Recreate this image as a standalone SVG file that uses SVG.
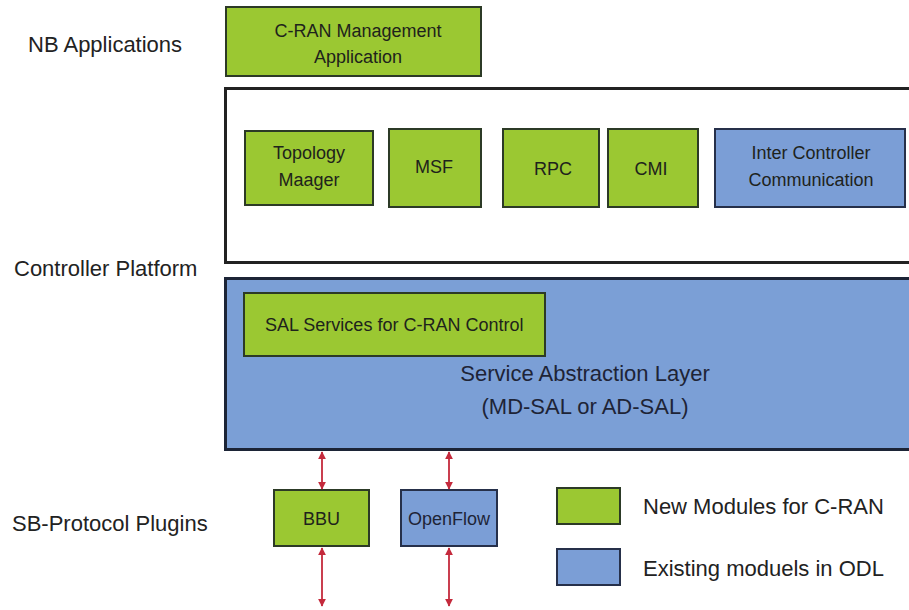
<svg xmlns="http://www.w3.org/2000/svg" width="909" height="610" viewBox="0 0 909 610">
<style>
text{font-family:"Liberation Sans",Arial,sans-serif;fill:#1e231c}
.lbl{font-size:22px;fill:#222}
.bx{font-size:18px;text-anchor:middle}
.g{fill:#9bc832;stroke:#2c3a26;stroke-width:2}
.b{fill:#7b9ed6;stroke:#26304a;stroke-width:2}
.leg{font-size:22px;fill:#222}
.ar{stroke:#c42a3c;stroke-width:1.8;fill:none;marker-start:url(#ah);marker-end:url(#ah)}
</style>
<defs>
<marker id="ah" viewBox="0 0 10 10" refX="9" refY="5" markerWidth="8" markerHeight="8" orient="auto-start-reverse" markerUnits="userSpaceOnUse">
<path d="M0,0 L10,5 L0,10 z" fill="#c42a3c"/>
</marker>
</defs>
<rect width="909" height="610" fill="#fff"/>
<g id="labels">
<text class="lbl" x="28" y="52">NB Applications</text>
<text class="lbl" x="14" y="276">Controller Platform</text>
<text class="lbl" x="12" y="531">SB-Protocol Plugins</text>
</g>
<g id="cran-mgmt">
<rect class="g" x="226" y="7" width="255" height="69"/>
<text class="bx" x="358" y="37">C-RAN Management</text>
<text class="bx" x="358" y="63">Application</text>
</g>
<g id="controller-platform">
<rect x="225.5" y="88.5" width="690" height="174" fill="#fff" stroke="#222" stroke-width="3"/>
</g>
<g id="topology">
<rect class="g" x="245" y="131" width="128" height="74"/>
<text class="bx" x="309" y="159">Topology</text>
<text class="bx" x="309" y="186">Maager</text>
</g>
<g id="msf">
<rect class="g" x="389" y="129" width="92" height="78"/>
<text class="bx" x="434" y="173">MSF</text>
</g>
<g id="rpc">
<rect class="g" x="503" y="129" width="96" height="78"/>
<text class="bx" x="553" y="175">RPC</text>
</g>
<g id="cmi">
<rect class="g" x="608" y="129" width="90" height="78"/>
<text class="bx" x="651" y="175">CMI</text>
</g>
<g id="inter-controller">
<rect class="b" x="715" y="129" width="190" height="78"/>
<text class="bx" x="811" y="159">Inter Controller</text>
<text class="bx" x="811" y="186">Communication</text>
</g>
<g id="sal">
<rect x="225.5" y="278.5" width="690" height="171" fill="#7b9fd6" stroke="#1c2436" stroke-width="3"/>
<text x="585" y="381" text-anchor="middle" style="font-size:22px;fill:#1e2436">Service Abstraction Layer</text>
<text x="585" y="414" text-anchor="middle" style="font-size:22px;fill:#1e2436">(MD-SAL or AD-SAL)</text>
</g>
<g id="sal-services">
<rect class="g" x="244" y="293" width="301" height="63"/>
<text x="265" y="331" style="font-size:18px">SAL Services for C-RAN Control</text>
</g>
<g id="bbu">
<rect class="g" x="274" y="490" width="95" height="56"/>
<text class="bx" x="321.5" y="525">BBU</text>
</g>
<g id="openflow">
<rect class="b" x="401" y="490" width="96" height="56"/>
<text class="bx" x="449" y="525" style="fill:#1e2436">OpenFlow</text>
</g>
<g id="connectors">
<line class="ar" x1="322" y1="452" x2="322" y2="489"/>
<line class="ar" x1="449" y1="452" x2="449" y2="489"/>
<line class="ar" x1="322" y1="548" x2="322" y2="606"/>
<line class="ar" x1="449" y1="548" x2="449" y2="606"/>
</g>
<g id="legend">
<rect class="g" x="557" y="488" width="63" height="36"/>
<text class="leg" x="643" y="514">New Modules for C-RAN</text>
<rect class="b" x="557" y="549" width="63" height="36"/>
<text class="leg" x="643" y="576">Existing moduels in ODL</text>
</g>
</svg>
